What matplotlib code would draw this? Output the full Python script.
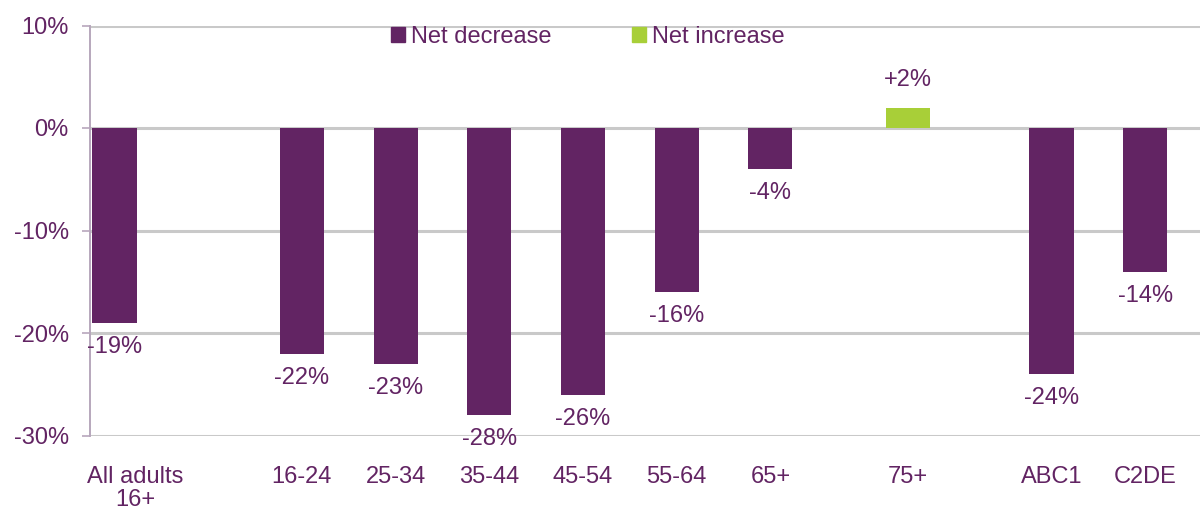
import matplotlib
matplotlib.use("Agg")
import matplotlib.pyplot as plt
import matplotlib.transforms as mtransforms
from matplotlib.patches import Patch
import numpy as np

# ---- data ----
categories = ["All adults\n16+", "16-24", "25-34", "35-44", "45-54", "55-64", "65+", "75+", "ABC1", "C2DE"]
values = [-19, -22, -23, -28, -26, -16, -4, 2, -24, -14]
series_names = ["Net decrease", "Net increase"]
y_ticks = [10, 0, -10, -20, -30]

# ---- style / layout ----
PURPLE = "#622463"
GREEN = "#A8CF38"
GRID = "#C9C9C9"
SPINE = "#B7A7BC"
FS = 17
plt.rcParams["font.family"] = ["Liberation Sans", "DejaVu Sans"]

slots = np.array([0, 2, 3, 4, 5, 6, 7, 8, 10, 11], dtype=float)  # category slots (gaps between groups)
width = 0.47

vals = np.array(values, dtype=float)
dec_mask = vals < 0
inc_mask = vals > 0
x_dec = slots[dec_mask]
x_inc = slots[inc_mask] + width  # second series of the cluster

fig = plt.figure(figsize=(12, 5.08), dpi=100)
ax = fig.add_axes([89.5 / 1200, 1 - 435.5 / 508, 1 - 89.5 / 1200, (435.5 - 25.5) / 508])

ax.set_ylim(-30, 10)
ax.set_xlim(-0.267, 11.585)
ax.set_yticks(y_ticks)
ax.set_yticklabels([f"{t}%" for t in y_ticks])
ax.yaxis.grid(True, color=GRID, linewidth=2.2)
ax.set_axisbelow(True)

b1 = ax.bar(x_dec, vals[dec_mask], width=width, color=PURPLE, zorder=3)
b2 = ax.bar(x_inc, vals[inc_mask], width=width, color=GREEN, zorder=3)

# value labels
for xs, vs in ((x_dec, vals[dec_mask]), (x_inc, vals[inc_mask])):
    for x, v in zip(xs, vs):
        if v < 0:
            ax.annotate(f"{int(v)}%", (x, v), xytext=(0, -17.5), textcoords="offset points",
                        ha="center", va="center", fontsize=FS, color=PURPLE)
        else:
            ax.annotate(f"+{int(v)}%", (x, v), xytext=(0, 20), textcoords="offset points",
                        ha="center", va="center", fontsize=FS, color=PURPLE)

# x tick labels at bar centres
bar_centres = np.where(dec_mask, slots, slots + width)
ax.set_xticks(bar_centres)
ax.set_xticklabels(categories, fontsize=FS, color=PURPLE, linespacing=1.05)
ax.tick_params(axis="x", length=0, pad=22)
# first label is shifted slightly to the right in the reference
lbl0 = ax.get_xticklabels()[0]
lbl0.set_transform(lbl0.get_transform() + mtransforms.ScaledTranslation(21 / 100, 0, fig.dpi_scale_trans))

ax.tick_params(axis="y", length=6, width=1.2, color=SPINE, pad=9, labelsize=FS, labelcolor=PURPLE)

for s in ("top", "right", "bottom"):
    ax.spines[s].set_visible(False)
ax.spines["left"].set_color(SPINE)
ax.spines["left"].set_linewidth(1.4)

handles = [Patch(color=PURPLE), Patch(color=GREEN)]
leg = fig.legend(handles, series_names, loc="center", bbox_to_anchor=(588 / 1200, 1 - 37 / 508),
                 ncol=2, frameon=False, fontsize=FS, handlelength=0.6, handleheight=0.6,
                 handletextpad=0.25, columnspacing=3.4, labelcolor=PURPLE, borderpad=0)

fig.savefig("out.png", dpi=100)
